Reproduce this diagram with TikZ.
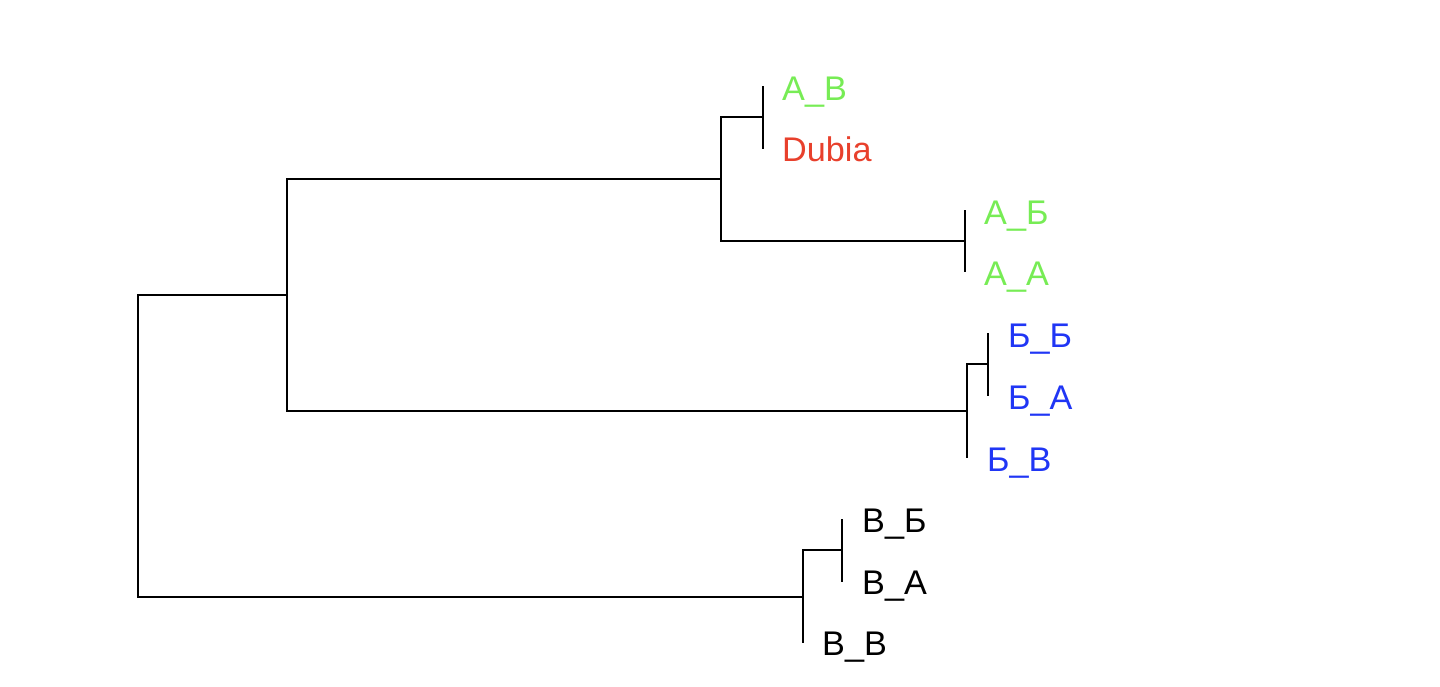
\documentclass[tikz,border=0pt]{standalone}
\usepackage{fontspec}
\setmainfont{Liberation Sans}
\definecolor{lgreen}{HTML}{77EC55}
\definecolor{lred}{HTML}{E8402C}
\definecolor{lblue}{HTML}{2036F5}
\begin{document}
\begin{tikzpicture}[x=1pt,y=-1pt,
  branch/.style={line width=2pt, black},
  leaf/.style={anchor=base west, inner sep=0pt, font=\fontsize{34.2}{34.2}\selectfont}]
\useasboundingbox (0,0) rectangle (1440,686);
% internal nodes
\coordinate (r)  at (138,446);
\coordinate (c1) at (287,295);
\coordinate (c2) at (721,179);
\coordinate (c3) at (763,117);
\coordinate (c4) at (965,241);
\coordinate (c5) at (967,411);
\coordinate (c6) at (988,364);
\coordinate (c7) at (803,597);
\coordinate (c8) at (842,550);
% leaf tips
\coordinate (t1) at (763,86);
\coordinate (t2) at (763,149);
\coordinate (t3) at (965,210);
\coordinate (t4) at (965,272);
\coordinate (t5) at (988,333);
\coordinate (t6) at (988,396);
\coordinate (t7) at (967,458);
\coordinate (t8) at (842,519);
\coordinate (t9) at (842,582);
\coordinate (t10) at (803,643);
% branches
\draw[branch] (r) |- (c1);
\draw[branch] (r) |- (c7);
\draw[branch] (c1) |- (c2);
\draw[branch] (c1) |- (c5);
\draw[branch] (c2) |- (c3);
\draw[branch] (c2) |- (c4);
\draw[branch] (c3) -- (t1);
\draw[branch] (c3) -- (t2);
\draw[branch] (c4) -- (t3);
\draw[branch] (c4) -- (t4);
\draw[branch] (c5) |- (c6);
\draw[branch] (c5) -- (t7);
\draw[branch] (c6) -- (t5);
\draw[branch] (c6) -- (t6);
\draw[branch] (c7) |- (c8);
\draw[branch] (c7) -- (t10);
\draw[branch] (c8) -- (t8);
\draw[branch] (c8) -- (t9);
% labels
\node[leaf, text=lgreen] (L1) at (782,100) {А\_В};
\node[leaf, text=lred]   (L2) at (782,161) {Dubia};
\node[leaf, text=lgreen] (L3) at (984,224) {А\_Б};
\node[leaf, text=lgreen] (L4) at (984,285) {А\_А};
\node[leaf, text=lblue]  (L5) at (1008,347) {Б\_Б};
\node[leaf, text=lblue]  (L6) at (1008,409) {Б\_А};
\node[leaf, text=lblue]  (L7) at (987,471) {Б\_В};
\node[leaf, text=black]  (L8) at (862,532) {В\_Б};
\node[leaf, text=black]  (L9) at (862,594) {В\_А};
\node[leaf, text=black]  (L10) at (822,655) {В\_В};
\end{tikzpicture}
\end{document}
